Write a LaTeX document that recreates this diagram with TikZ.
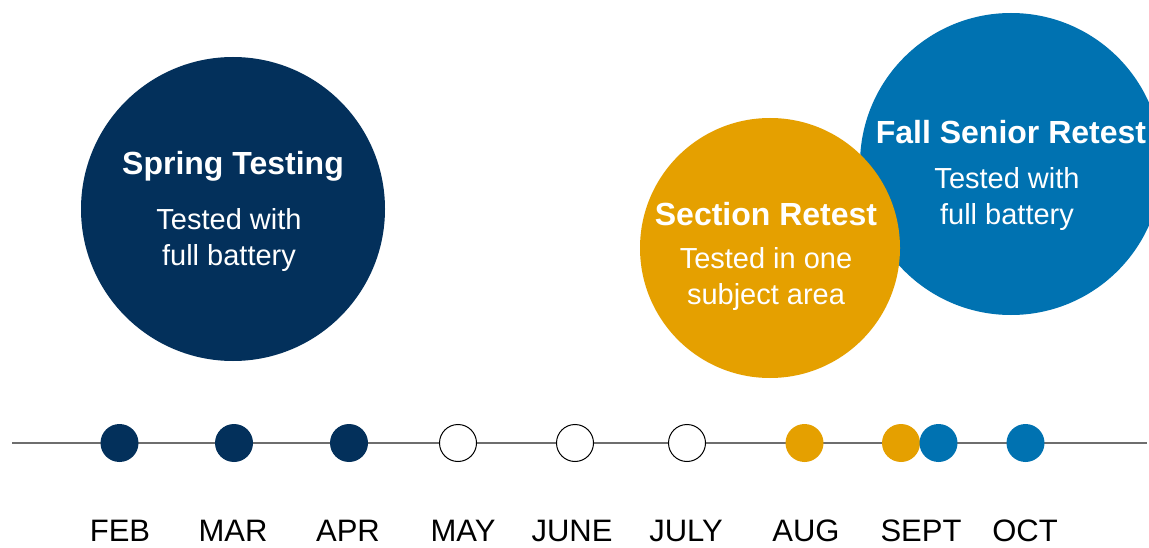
\documentclass[tikz,border=0pt]{standalone}
\usepackage{fontspec}
\setmainfont{Liberation Sans}
\definecolor{navy}{HTML}{03305B}
\definecolor{gold}{HTML}{E5A000}
\definecolor{sky}{HTML}{0072B1}
\definecolor{rule}{HTML}{6E6E6E}
\tikzset{
	bubble/.style={circle,inner sep=0pt,minimum size=#1,draw=none},
	title/.style={text=white,font=\bfseries\fontsize{32}{36}\selectfont},
	blurb/.style={text=white,align=center,font=\fontsize{29}{35.5}\selectfont},
	dot/.style={circle,inner sep=0pt,minimum size=38pt},
	month/.style={anchor=base,font=\fontsize{31}{32}\selectfont}
}
\begin{document}
\begin{tikzpicture}[x=10pt,y=10pt]
	\clip (0,0) rectangle (114.9,-54.8);
	\fill [white] (0,0) rectangle (114.9,-54.8);
	% big bubbles
	\node [bubble=304pt,fill=navy] (spring) at (23.3,-20.9) {};
	\node [bubble=302pt,fill=sky] (fall) at (101.1,-16.4) {};
	\node [bubble=260pt,fill=gold] (section) at (77.0,-24.8) {};
	\node [title] (springT) at (23.3,-16.6) {Spring Testing};
	\node [blurb] (springB) at (22.9,-24.0) {Tested with\\full battery};
	\node [title] (sectionT) at (76.6,-21.4) {Section Retest};
	\node [blurb] (sectionB) at (76.6,-27.9) {Tested in one\\subject area};
	\node [title] (fallT) at (101.1,-13.2) {Fall Senior Retest};
	\node [blurb] (fallB) at (100.7,-19.9) {Tested with\\full battery};
	% timeline
	\coordinate (lstart) at (1.2,-44.3);
	\coordinate (lend) at (114.7,-44.3);
	\draw [rule,line width=1.5pt] (lstart) -- (lend);
	\node [dot,fill=navy] (feb) at (11.95,-44.3) {};
	\node [dot,fill=navy] (mar) at (23.4,-44.3) {};
	\node [dot,fill=navy] (apr) at (34.9,-44.3) {};
	\node [dot,fill=white,draw=black,line width=1pt,minimum size=37pt] (may) at (45.8,-44.3) {};
	\node [dot,fill=white,draw=black,line width=1pt,minimum size=37pt] (june) at (57.5,-44.3) {};
	\node [dot,fill=white,draw=black,line width=1pt,minimum size=37pt] (july) at (68.7,-44.3) {};
	\node [dot,fill=gold] (aug) at (80.45,-44.3) {};
	\node [dot,fill=gold] (sept) at (90.1,-44.3) {};
	\node [dot,fill=sky] (septb) at (93.85,-44.3) {};
	\node [dot,fill=sky] (oct) at (102.55,-44.3) {};
	% month names
	\node [month] (lfeb) at (12.0,-54.1) {FEB};
	\node [month] (lmar) at (23.3,-54.1) {MAR};
	\node [month] (lapr) at (34.8,-54.1) {APR};
	\node [month] (lmay) at (46.3,-54.1) {MAY};
	\node [month] (ljune) at (57.2,-54.1) {JUNE};
	\node [month] (ljuly) at (68.6,-54.1) {JULY};
	\node [month] (laug) at (80.6,-54.1) {AUG};
	\node [month] (lsept) at (92.1,-54.1) {SEPT};
	\node [month] (loct) at (102.5,-54.1) {OCT};
\end{tikzpicture}
\end{document}
